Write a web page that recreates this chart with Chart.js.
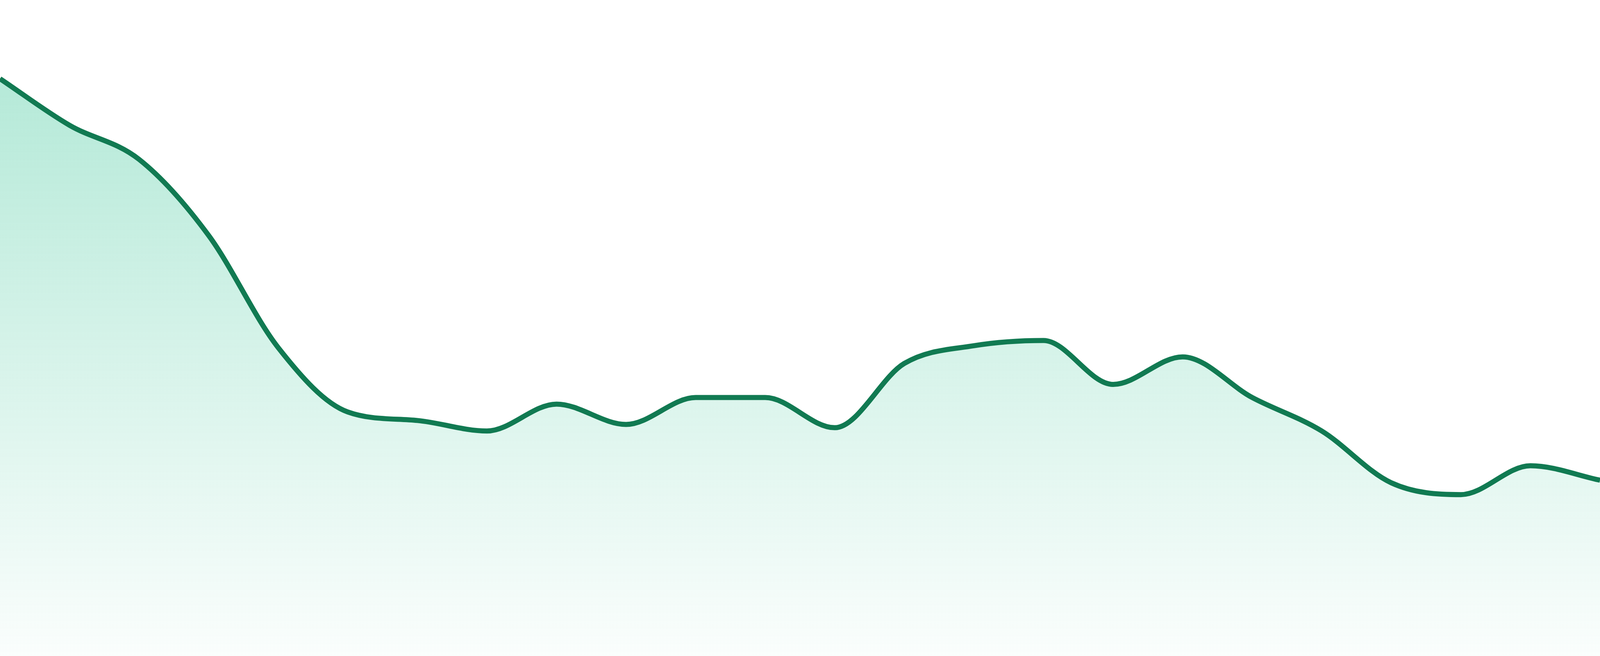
<!DOCTYPE html>
<html>
<head>
<meta charset="utf-8">
<script src="https://cdn.jsdelivr.net/npm/chart.js@4/dist/chart.umd.min.js"></script>
<style>
    html, body { margin: 0; padding: 0; width: 100%; height: 100%; overflow: hidden; background: #ffffff; }
    #wrap { width: 100vw; height: 100vh; position: relative; }
</style>
</head>
<body>
<div id="wrap"><canvas id="trendChart"></canvas></div>
<script>
// 24 evenly spaced samples
const labels = ['1', '2', '3', '4', '5', '6', '7', '8', '9', '10', '11', '12',
    '13', '14', '15', '16', '17', '18', '19', '20', '21', '22', '23', '24'];
const values = [88.0, 80.9, 75.7, 64.1, 47.0, 37.2, 35.9, 34.3, 38.4, 35.3, 39.4, 39.4,
    34.8, 44.6, 47.3, 48.1, 41.4, 45.6, 39.4, 34.3, 26.4, 24.6, 29.0, 26.8];
const yMin = 0;
const yMax = 100;

document.addEventListener('DOMContentLoaded', function () {
    const ctx = document.getElementById('trendChart').getContext('2d');
    new Chart(ctx, {
        type: 'line',
        data: {
            labels: labels,
            datasets: [{
                data: values,
                borderColor: '#117a52',
                borderWidth: 13,
                pointRadius: 0,
                cubicInterpolationMode: 'monotone',
                fill: 'origin',
                backgroundColor: function (context) {
                    const area = context.chart.chartArea;
                    if (!area) return 'rgba(16,185,129,0.3)';
                    const g = context.chart.ctx.createLinearGradient(0, area.top, 0, area.bottom);
                    g.addColorStop(0, 'rgba(16,185,129,0.35)');
                    g.addColorStop(1, 'rgba(16,185,129,0.02)');
                    return g;
                },
            }],
        },
        options: {
            responsive: true,
            maintainAspectRatio: false,
            animation: false,
            layout: { padding: 0 },
            plugins: {
                legend: { display: false },
                tooltip: { enabled: false },
            },
            scales: {
                x: { display: false, offset: false },
                y: { display: false, min: yMin, max: yMax },
            },
        },
    });
});
</script>
</body>
</html>
